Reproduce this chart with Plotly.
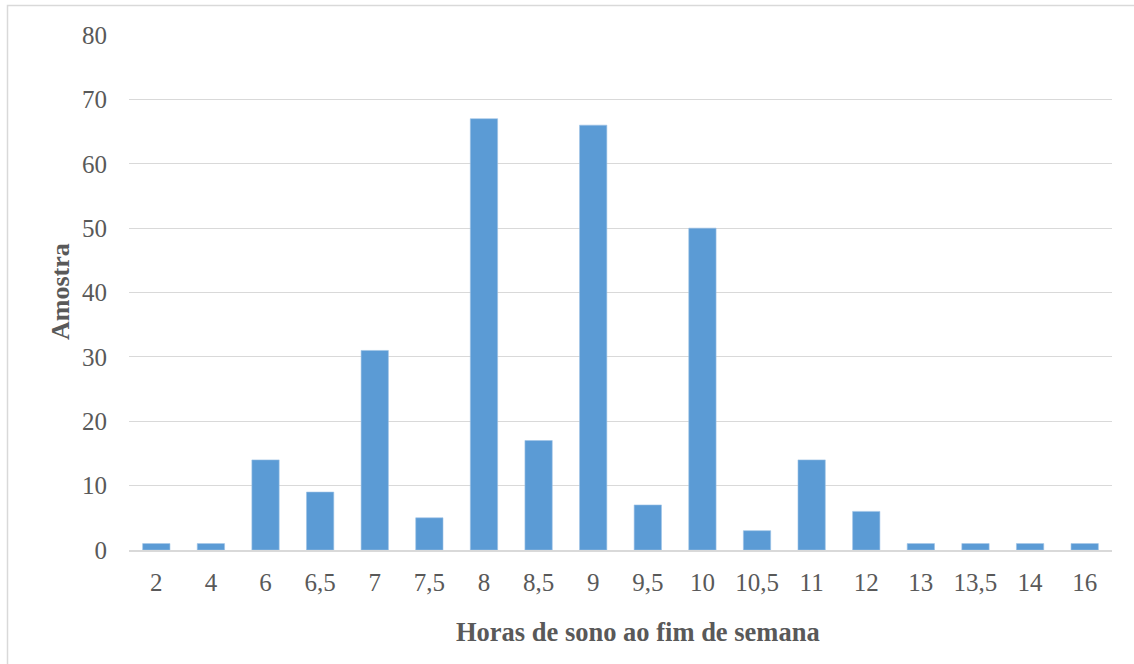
import plotly.graph_objects as go

# Weekend sleep hours (category labels) and number of respondents
horas = ["2", "4", "6", "6,5", "7", "7,5", "8", "8,5", "9", "9,5",
         "10", "10,5", "11", "12", "13", "13,5", "14", "16"]
amostra = [1, 1, 14, 9, 31, 5, 67, 17, 66, 7, 50, 3, 14, 6, 1, 1, 1, 1]
y_ticks = [0, 10, 20, 30, 40, 50, 60, 70, 80]

W, H = 1134, 664
L, R, T, B = 129, 22, 35, 114
pw, ph = W - L - R, H - T - B

def px_x(p):
    return (p - L) / pw

def px_y(p):
    return (H - B - p) / ph

font_serif = "Liberation Serif, Times New Roman, serif"
grey_txt = "#595959"

fig = go.Figure(
    go.Bar(
        x=horas,
        y=amostra,
        marker=dict(color="#5B9BD5", line=dict(color="#9DC3E6", width=0.6)),
    )
)

fig.update_layout(
    width=W,
    height=H,
    margin=dict(l=L, r=R, t=T, b=B),
    paper_bgcolor="white",
    plot_bgcolor="white",
    bargap=0.5,
    showlegend=False,
    font=dict(family=font_serif, size=25, color=grey_txt),
    xaxis=dict(
        type="category",
        showgrid=False,
        showline=True,
        linecolor="#D9D9D9",
        linewidth=1.5,
        ticks="",
        ticklabelstandoff=9,
        tickfont=dict(family=font_serif, size=25, color=grey_txt),
    ),
    yaxis=dict(
        range=[0, 80],
        tickvals=y_ticks,
        showgrid=True,
        gridcolor="#D9D9D9",
        gridwidth=1,
        zeroline=False,
        showline=False,
        ticks="",
        ticklabelstandoff=21,
        tickfont=dict(family=font_serif, size=25, color=grey_txt),
    ),
    annotations=[
        dict(
            text="<b>Horas de sono ao fim de semana</b>",
            xref="paper", yref="paper",
            x=px_x(638), y=px_y(632),
            xanchor="center", yanchor="middle",
            showarrow=False,
            font=dict(family=font_serif, size=26.5, color=grey_txt),
        ),
        dict(
            text="<b>Amostra</b>",
            xref="paper", yref="paper",
            x=px_x(60), y=px_y(292),
            xanchor="center", yanchor="middle",
            textangle=-90,
            showarrow=False,
            font=dict(family=font_serif, size=26, color=grey_txt),
        ),
    ],
    shapes=[
        dict(
            type="rect",
            xref="paper", yref="paper",
            x0=px_x(7.5), x1=px_x(1160),
            y0=px_y(700), y1=px_y(5.5),
            line=dict(color="#D9D9D9", width=1.5),
            fillcolor="rgba(0,0,0,0)",
            layer="below",
        )
    ],
)

fig.write_html("out.html")
